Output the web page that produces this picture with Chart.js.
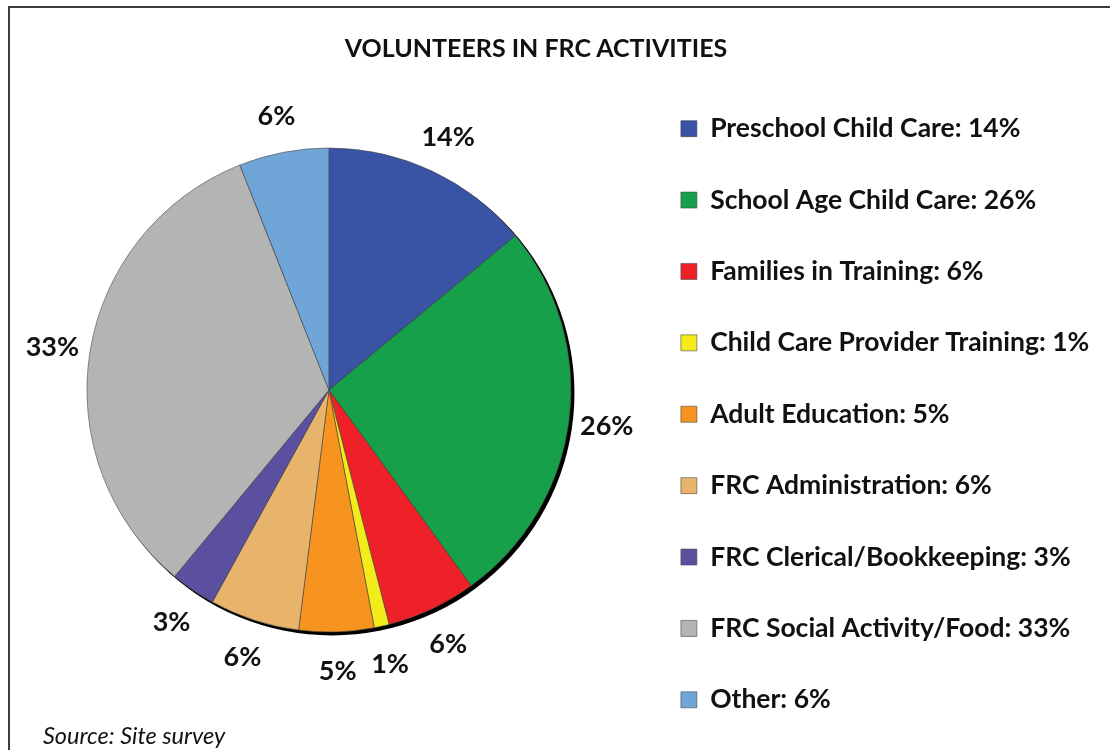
<!DOCTYPE html>
<html>
<head>
<meta charset="utf-8">
<script src="https://cdn.jsdelivr.net/npm/chart.js@4/dist/chart.umd.min.js"></script>
<style>
  html, body { margin: 0; padding: 0; background: #fff; overflow: hidden; width: 1110px; height: 750px; }
  #frame { position: absolute; left: 8px; top: 6px; width: 1200px; height: 800px;
           border-left: 2px solid #3c3c3c; border-top: 2px solid #3c3c3c; }
  #wrap { position: absolute; left: 0; top: 0; width: 1110px; height: 758px; }
  #title { position: absolute; left: 0; top: 32px; width: 1072px; text-align: center;
           font-family: Lato, sans-serif; font-weight: bold; font-size: 25px; line-height: 30px; color: #111; }
  #source { position: absolute; left: 43px; top: 721px; font-family: Lato, sans-serif;
            font-style: italic; font-size: 23.5px; line-height: 28px; color: #111; }
</style>
</head>
<body>
<div id="frame"></div>
<div id="wrap"><canvas id="c" width="1110" height="758"></canvas></div>
<div id="title"></div>
<div id="source"></div>
<script>
const chartTitle = 'VOLUNTEERS IN FRC ACTIVITIES';
const sourceNote = 'Source: Site survey';
const categories = [
  'Preschool Child Care',
  'School Age Child Care',
  'Families in Training',
  'Child Care Provider Training',
  'Adult Education',
  'FRC Administration',
  'FRC Clerical/Bookkeeping',
  'FRC Social Activity/Food',
  'Other'
];
const values = [14, 26, 6, 1, 5, 6, 3, 33, 6];
const colors = ['#3953a5', '#17a04a', '#ee2128', '#f4eb1a', '#f6941f', '#e8b46b', '#5b509f', '#b3b4b4', '#70a5d7'];

const legendLabels = categories.map((c, i) => c + ': ' + values[i] + '%');
const sliceLabels = values.map(v => v + '%');

document.getElementById('title').textContent = chartTitle;
document.getElementById('source').textContent = sourceNote;

const shadowPlugin = {
  id: 'pieShadow',
  beforeDatasetsDraw(chart) {
    const arc = chart.getDatasetMeta(0).data[0];
    if (!arc) return;
    const {x, y, outerRadius} = arc.getProps(['x', 'y', 'outerRadius'], true);
    const ctx = chart.ctx;
    ctx.save();
    ctx.fillStyle = '#000';
    ctx.beginPath();
    ctx.arc(x + 3, y + 3, outerRadius + 0.5, 0, Math.PI * 2);
    ctx.fill();
    ctx.restore();
  }
};

const labelPlugin = {
  id: 'sliceLabels',
  afterDatasetsDraw(chart) {
    const ctx = chart.ctx;
    ctx.save();
    ctx.font = 'bold 27px Lato';
    ctx.fillStyle = '#111';
    ctx.textAlign = 'center';
    ctx.textBaseline = 'middle';
    chart.getDatasetMeta(0).data.forEach((arc, i) => {
      const p = arc.getProps(['x', 'y', 'startAngle', 'endAngle', 'outerRadius'], true);
      const mid = (p.startAngle + p.endAngle) / 2;
      const r = p.outerRadius + 38;
      ctx.fillText(sliceLabels[i], p.x + Math.cos(mid) * r, p.y + Math.sin(mid) * r + 1);
    });
    ctx.restore();
  }
};

new Chart(document.getElementById('c'), {
  type: 'pie',
  data: {
    labels: legendLabels,
    datasets: [{
      data: values,
      backgroundColor: colors,
      borderColor: '#4a4a4a',
      borderWidth: 0.6,
      radius: 242
    }]
  },
  options: {
    responsive: false,
    animation: false,
    layout: { padding: { top: 22, bottom: 0, left: 21.9, right: 10.7 } },
    plugins: {
      title: { display: false },
      legend: {
        position: 'right',
        align: 'end',
        fullSize: false,
        labels: {
          color: '#111',
          boxWidth: 16,
          boxHeight: 16,
          padding: 44.9,
          font: { family: 'Lato', weight: 'bold', size: 26.5 }
        }
      },
      tooltip: { enabled: false }
    }
  },
  plugins: [shadowPlugin, labelPlugin]
});
</script>
</body>
</html>
